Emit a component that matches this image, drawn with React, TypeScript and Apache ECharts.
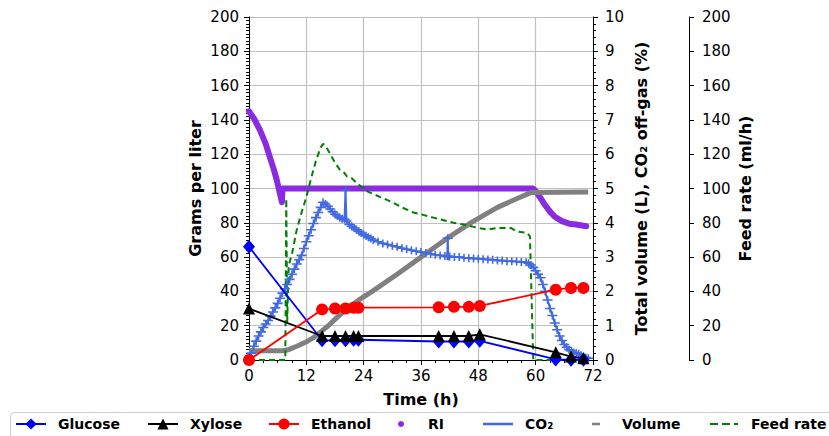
import React, { useEffect, useRef } from 'react';
import * as echarts from 'echarts';

const FONT = "'DejaVu Sans', sans-serif";

// [time (h), value]
const glucose: [number, number][] = [
  [0, 66], [15.3, 11.5], [18, 11.5], [20.2, 11.5], [21.9, 11.8], [22.9, 11.8],
  [39.7, 10.8], [42.9, 10.8], [46, 10.8], [48.3, 11.2], [64.2, 0.3], [67.4, 0.2], [70, 0.2],
];
const xylose: [number, number][] = [
  [0, 30], [15.3, 14], [18, 14], [20.2, 14], [21.9, 14], [22.9, 14],
  [39.7, 14], [42.9, 14], [46, 14], [48.3, 15], [64.2, 4.5], [67.4, 2], [70, 1],
];
const ethanol: [number, number][] = [
  [0, 0], [15.3, 29.5], [18, 30], [20.2, 30], [21.9, 30.5], [22.9, 30.5],
  [39.7, 30.7], [42.9, 31], [46, 31], [48.3, 31.5], [64.2, 41], [67.4, 42], [70, 42],
];
const ri: [number, number][] = [
  [0, 145], [1, 141], [2.3, 134], [3.5, 126], [4.4, 118], [5.2, 111], [5.8, 105],
  [6.4, 98], [6.9, 92], [7.0, 100], [59.4, 100], [60, 98.5], [61, 94.5], [61.8, 91],
  [63, 86.5], [64, 83.5], [65.5, 81], [67, 79.5], [68.5, 79], [70.6, 78],
];
const co2: [number, number][] = [
  [0, 0], [0.5, 0.2], [1, 0.4], [1.5, 0.55], [2, 0.7], [2.5, 0.82], [3, 0.95], [3.5, 1.05],
  [4, 1.15], [4.5, 1.28], [5, 1.4], [5.5, 1.52], [6, 1.65], [6.5, 1.8], [7, 1.95],
  [7.5, 2.08], [8, 2.2], [8.5, 2.35], [9, 2.5], [9.5, 2.65], [10, 2.8], [10.5, 2.92],
  [11, 3.05], [11.5, 3.25], [12, 3.45], [12.5, 3.62], [13, 3.8], [13.5, 3.98], [14, 4.15],
  [14.5, 4.3], [15, 4.45], [15.5, 4.6], [16, 4.55], [16.5, 4.48], [17, 4.4], [17.5, 4.32],
  [18, 4.25], [18.5, 4.2], [19, 4.15], [19.5, 4.12], [20, 4.1],
  [20.2, 4.95], [20.4, 4.05], [21, 3.95], [21.5, 3.9], [22, 3.85], [22.5, 3.8], [23, 3.75],
  [23.5, 3.7], [24, 3.65], [24.5, 3.62], [25, 3.58], [25.5, 3.54],
  [26, 3.5], [27, 3.45], [28, 3.4], [29, 3.37], [30, 3.33], [31, 3.3], [32, 3.26],
  [33, 3.23], [34, 3.2], [35, 3.17], [36, 3.15], [37, 3.12], [38, 3.1], [39, 3.07],
  [40, 3.05], [41, 3.03], [41.5, 3.03], [41.6, 3.55], [41.7, 3.02], [42, 3.02], [43, 3.0],
  [44, 3.0], [45, 2.98], [46, 2.97], [47, 2.96], [48, 2.95], [49, 2.94], [50, 2.93],
  [51, 2.92], [52, 2.9], [53, 2.9], [54, 2.88], [55, 2.88], [56, 2.87], [57, 2.86],
  [58, 2.85], [58.5, 2.82], [59, 2.77], [59.5, 2.7], [60, 2.6], [60.5, 2.5], [61, 2.4],
  [61.5, 2.2], [62, 2.0], [62.5, 1.75], [63, 1.5], [63.5, 1.3],
  [64, 1.08], [64.5, 0.88], [65, 0.7], [65.5, 0.57], [66, 0.45], [66.5, 0.37], [67, 0.3],
  [67.5, 0.26], [68, 0.22], [68.5, 0.2], [69, 0.18], [69.5, 0.14], [70, 0.1], [70.5, 0.07], [71, 0.05],
];
const volume: [number, number][] = [
  [0, 0.27], [7, 0.27], [8, 0.29], [10, 0.4], [12, 0.53], [13.5, 0.65], [15, 0.82],
  [16.6, 1.0], [18.5, 1.25], [20.5, 1.5], [23, 1.75], [25.8, 2.0], [31, 2.5], [36, 3.0],
  [41, 3.5], [46.4, 4.0], [52, 4.45], [56, 4.7], [59, 4.88], [71, 4.9],
];
const feedRate: [number, number][] = [
  [0, 0], [7.6, 0], [7.8, 94], [8.0, 22], [8.3, 55], [9, 62], [10, 76], [11, 86],
  [12, 95], [13, 106], [14, 116], [15, 124], [15.5, 126], [16, 125], [17, 120], [18, 115],
  [19, 111], [20, 109], [20.5, 107], [21.5, 106], [22.6, 103], [24, 100], [25, 98],
  [27.5, 95], [30, 92], [32, 89], [34.4, 86], [36, 85], [38.6, 83], [40, 82], [42.8, 80],
  [45, 79], [48, 77], [50, 76], [52, 77], [54.8, 77], [56, 75], [58.3, 74], [58.8, 72],
  [59.5, 0], [70.5, 0],
];

const xTicks = { min: 0, max: 72, interval: 12 };
const leftTicks = { min: 0, max: 200, interval: 20 };
const volTicks = { min: 0, max: 10, interval: 1 };
const feedTicks = { min: 0, max: 200, interval: 20 };

const COLORS = {
  glucose: '#0000ff',
  xylose: '#000000',
  ethanol: '#ff0000',
  ri: '#8a2be2',
  co2: '#4169e1',
  volume: '#808080',
  feed: '#008000',
};

const axisLine = { show: true, lineStyle: { color: '#000', width: 1 } };
const axisLabel = (margin: number) => ({ fontFamily: FONT, fontSize: 15, color: '#000', margin });
const nameStyle = { fontFamily: FONT, fontSize: 16, fontWeight: 'bold' as const, color: '#000' };
const gridLine = { show: true, lineStyle: { color: '#c0c0c0', width: 1.2 } };

const legendText = (pad: number) => ({
  fontFamily: FONT, fontSize: 14, fontWeight: 'bold' as const, color: '#000',
  padding: [0, 0, 0, pad], lineHeight: 14,
});

function legendItem(name: string, left: number, opts: any = {}) {
  const { icon, itemWidth = 30, itemHeight = 14, pad = 7 } = opts;
  return {
    data: [icon ? { name, icon } : { name }],
    left, top: 417, padding: 0, itemGap: 0,
    itemWidth, itemHeight, selectedMode: false,
    textStyle: legendText(pad),
  };
}

const DASH_ICON = 'path://M0 0L8 0L8 2L0 2Z M12 0L20 0L20 2L12 2Z M24 0L28 0L28 2L24 2Z';
const PLUS_SYMBOL = 'path://M0 3.3L10 3.3L10 4.9L0 4.9Z M4.2 0L5.8 0L5.8 8.2L4.2 8.2Z';

export default function App() {
  const ref = useRef<HTMLDivElement>(null);
  useEffect(() => {
    document.body.style.margin = '0';
    const chart = echarts.init(ref.current!, null, { renderer: 'svg' });
    const option: any = {
      animation: false,
      backgroundColor: '#fff',
      grid: { left: 249, right: 236, top: 17, bottom: 76 },
      xAxis: {
        type: 'value', ...xTicks,
        axisLine,
        axisTick: { show: true, length: 5, lineStyle: { color: '#000' } },
        minorTick: { show: true, splitNumber: 4, length: 3, lineStyle: { color: '#000' } },
        splitLine: gridLine,
        axisLabel: axisLabel(8),
        name: 'Time (h)', nameLocation: 'middle', nameGap: 31, nameTextStyle: nameStyle,
      },
      yAxis: [
        {
          type: 'value', position: 'left', ...leftTicks,
          axisLine,
          axisTick: { show: true, length: 5, lineStyle: { color: '#000' } },
          minorTick: { show: true, splitNumber: 10, length: 3, lineStyle: { color: '#000' } },
          splitLine: gridLine,
          axisLabel: axisLabel(10),
          name: 'Grams per liter', nameLocation: 'middle', nameRotate: 90, nameGap: 46,
          nameTextStyle: nameStyle,
        },
        {
          type: 'value', position: 'right', offset: 0, ...volTicks,
          axisLine,
          axisTick: { show: true, length: 5, lineStyle: { color: '#000' } },
          minorTick: { show: true, splitNumber: 5, length: 3, lineStyle: { color: '#000' } },
          splitLine: { show: false },
          axisLabel: axisLabel(12),
          name: 'Total volume (L), CO\u2082 off-gas (%)', nameLocation: 'middle', nameRotate: 90,
          nameGap: 40, nameTextStyle: nameStyle,
        },
        {
          type: 'value', position: 'right', offset: 96, ...feedTicks,
          axisLine,
          axisTick: { show: true, length: 5, lineStyle: { color: '#000' } },
          splitLine: { show: false },
          axisLabel: axisLabel(13),
          name: 'Feed rate (ml/h)', nameLocation: 'middle', nameRotate: 90, nameGap: 48,
          nameTextStyle: nameStyle,
        },
      ],
      legend: [
        legendItem('Glucose', 15),
        legendItem('Xylose', 147),
        legendItem('Ethanol', 268),
        legendItem('RI', 398, { icon: 'circle', itemHeight: 6 }),
        legendItem('CO\u2082', 483, { icon: 'rect', itemHeight: 2.5 }),
        legendItem('Volume', 592, { icon: 'rect', itemWidth: 8, itemHeight: 2.5, pad: 17 }),
        legendItem('Feed rate', 710, { icon: DASH_ICON, itemHeight: 2 }),
      ],
      graphic: [
        {
          type: 'rect', x: 10.5, y: 412.5, z: -10,
          shape: { width: 840, height: 40, r: 4 },
          style: { fill: '#fff', stroke: '#cccccc', lineWidth: 1 },
        },
      ],
      series: [
        {
          name: 'RI', type: 'line', yAxisIndex: 0, data: ri, symbol: 'none',
          lineStyle: { color: COLORS.ri, width: 6, cap: 'round', join: 'round' },
          itemStyle: { color: COLORS.ri }, z: 2,
        },
        {
          name: 'CO\u2082', type: 'line', yAxisIndex: 1, data: co2,
          symbol: PLUS_SYMBOL, symbolSize: [10, 8],
          showAllSymbol: true,
          lineStyle: { color: COLORS.co2, width: 2 },
          itemStyle: { color: COLORS.co2 }, z: 3,
        },
        {
          name: 'Volume', type: 'line', yAxisIndex: 1, data: volume, symbol: 'none',
          lineStyle: { color: COLORS.volume, width: 5 },
          itemStyle: { color: COLORS.volume }, z: 3,
        },
        {
          name: 'Feed rate', type: 'line', yAxisIndex: 2, data: feedRate, symbol: 'none',
          lineStyle: { color: COLORS.feed, width: 2, type: [6, 4] },
          itemStyle: { color: COLORS.feed }, z: 3,
        },
        {
          name: 'Glucose', type: 'line', yAxisIndex: 0, data: glucose,
          symbol: 'diamond', symbolSize: [12, 14],
          lineStyle: { color: COLORS.glucose, width: 1.8 },
          itemStyle: { color: COLORS.glucose }, z: 5,
        },
        {
          name: 'Xylose', type: 'line', yAxisIndex: 0, data: xylose,
          symbol: 'triangle', symbolSize: 12,
          lineStyle: { color: COLORS.xylose, width: 1.8 },
          itemStyle: { color: COLORS.xylose }, z: 5,
        },
        {
          name: 'Ethanol', type: 'line', yAxisIndex: 0, data: ethanol,
          symbol: 'circle', symbolSize: 12,
          lineStyle: { color: COLORS.ethanol, width: 1.8 },
          itemStyle: { color: COLORS.ethanol }, z: 5,
        },
      ],
    };
    chart.setOption(option);
    return () => chart.dispose();
  }, []);
  return <div ref={ref} style={{ width: 829, height: 436 }} />;
}
